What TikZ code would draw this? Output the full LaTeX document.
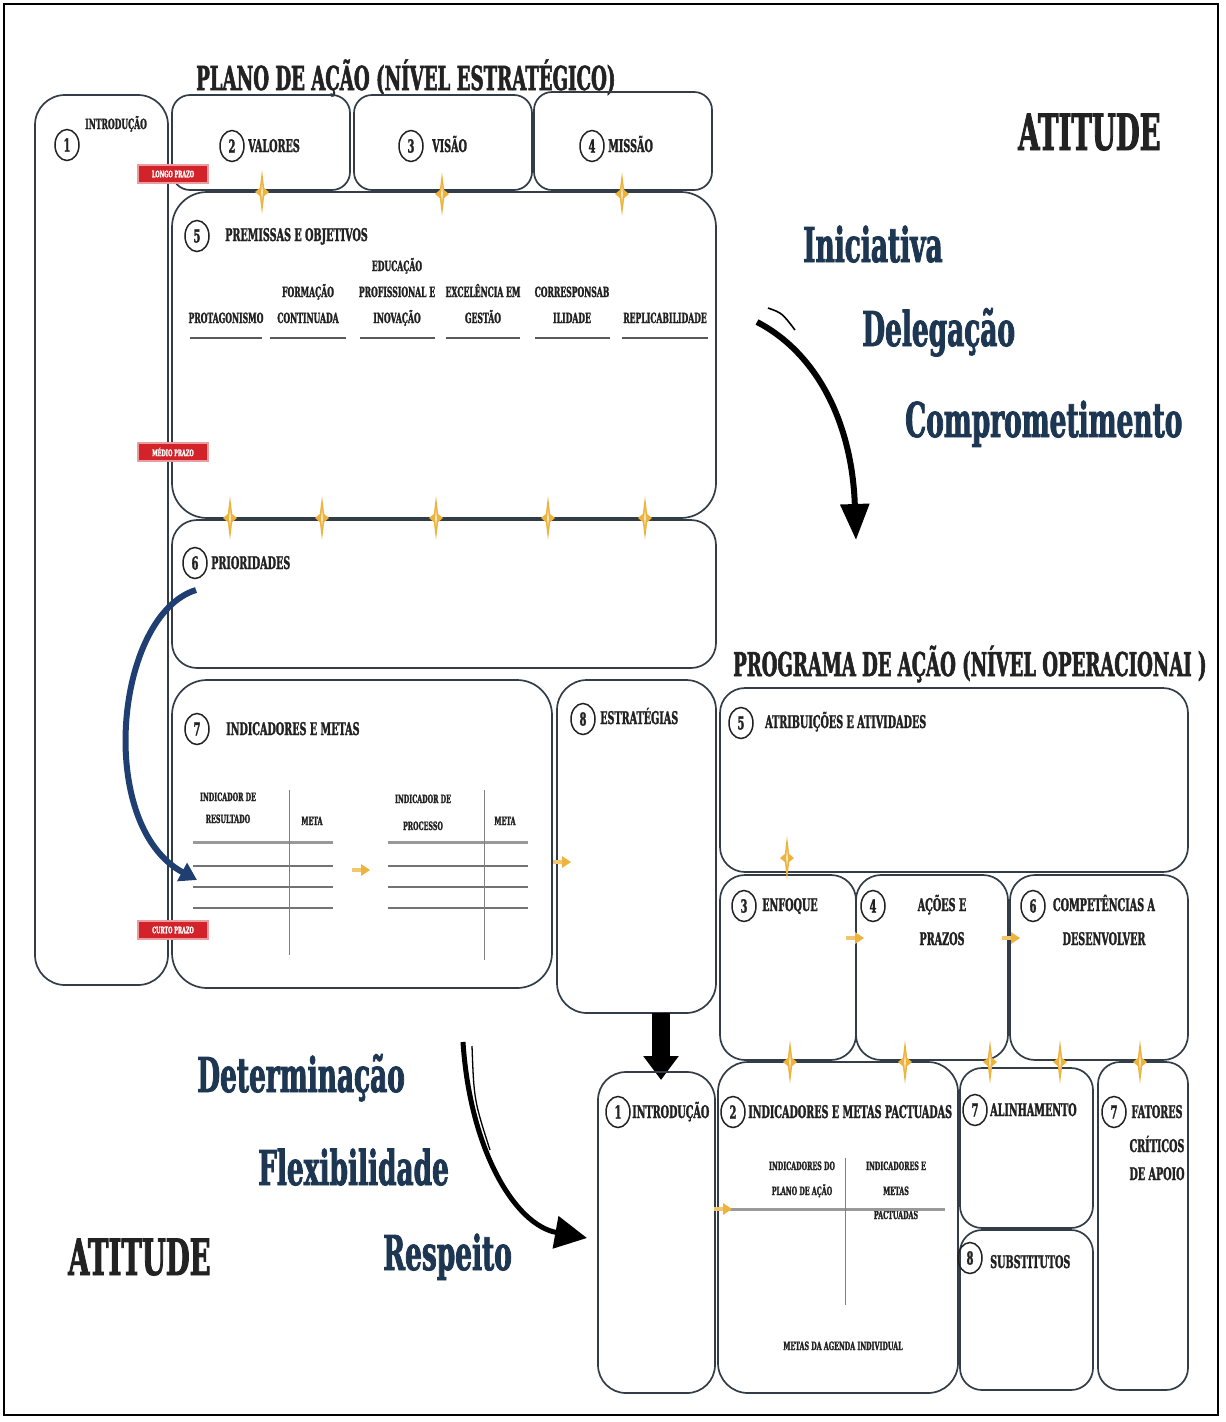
\documentclass[tikz,border=0pt]{standalone}
\usepackage{fontspec}
\setmainfont{DejaVu Serif}
\newfontfamily\slab{DejaVu Serif}[FakeStretch=0.55, FakeBold=1.6]
\usetikzlibrary{arrows.meta,shapes.geometric,fit}
\definecolor{boxline}{HTML}{333D47}
\definecolor{txt}{HTML}{222222}
\definecolor{navy}{HTML}{1D3652}
\definecolor{gold}{HTML}{EDB33C}
\definecolor{redc}{HTML}{D2232A}
\definecolor{bluea}{HTML}{1F3E72}
\tikzset{
  tx/.style={inner sep=0pt, text=txt, font=\slab\bfseries\fontsize{#1}{#1}\selectfont},
  box/.style={draw=boxline, line width=1.7pt, rounded corners=#1, inner sep=0pt},
  numc/.style={ellipse, draw=txt, line width=1.5pt, minimum width=24pt, minimum height=31pt, inner sep=0pt, text=txt, font=\slab\bfseries\fontsize{18}{18}\selectfont},
  prazo/.style={fill=redc, draw=redc!45, line width=2pt, text=white, minimum width=70pt, minimum height=18pt, inner sep=0pt, font=\slab\bfseries\fontsize{9}{9}\selectfont},
  uline/.style={draw=black!65, line width=2.6pt},
  tline/.style={draw=black!55, line width=1.3pt},
  vline/.style={draw=black!50, line width=0.9pt},
  sparkle/.pic={
    \fill[gold] (0,-22) -- (2.2,-4) -- (7,0) -- (2.2,4) -- (0,22) -- (-2.2,4) -- (-7,0) -- (-2.2,-4) -- cycle;
    \fill[gold!35!white] (0,-9) -- (1,0) -- (0,9) -- (-1,0) -- cycle;
  },
  garrow/.pic={
    \fill[gold!75] (-10,-1.8) rectangle (0,1.8);
    \fill[gold] (-1,-6) -- (8,0) -- (-1,6) -- cycle;
  }
}
\begin{document}
\begin{tikzpicture}[x=1pt,y=-1pt]
\useasboundingbox (0,0) rectangle (1226,1422);
\node[draw=black, line width=2.5pt, inner sep=0pt, fit={(4,4) (1218,1415)}] (frame) {};

% ---------- PLANO DE ACAO ----------
\node[tx=33, anchor=base west] (tplano) at (196,90) {PLANO DE AÇÃO (NÍVEL ESTRATÉGICO)};

\node[box=30pt, fit={(35,95) (168,985)}] (L1) {};
\node[box=18pt, fit={(172,95) (350,190)}] (LV) {};
\node[box=18pt, fit={(354,95) (532,190)}] (LVi) {};
\node[box=18pt, fit={(534,92) (712,190)}] (LM) {};
\node[box=35pt, fit={(172,192) (716,518)}] (L5) {};
\node[box=25pt, fit={(172,520) (716,668)}] (L6) {};
\node[box=35pt, fit={(172,680) (552,988)}] (L7) {};
\node[box=30pt, fit={(557,680) (716,1013)}] (L8) {};

\node[numc] (n1) at (67,145) {1};
\node[tx=14, anchor=base west] (t1) at (85,129) {INTRODUÇÃO};
\node[numc] (n2) at (232,146) {2};
\node[tx=17.5, anchor=base west] (t2) at (248,152) {VALORES};
\node[numc] (n3) at (411,146) {3};
\node[tx=17.5, anchor=base west] (t3) at (432,152) {VISÃO};
\node[numc] (n4) at (592,146) {4};
\node[tx=17.5, anchor=base west] (t4) at (608,152) {MISSÃO};
\node[numc] (n5) at (197,236) {5};
\node[tx=17.5, anchor=base west] (t5) at (225,241) {PREMISSAS E OBJETIVOS};

% premissas columns
\node[tx=14, anchor=base] (p1a) at (226,323) {PROTAGONISMO};
\node[tx=14, anchor=base] (p2a) at (308,297) {FORMAÇÃO};
\node[tx=14, anchor=base] (p2b) at (308,323) {CONTINUADA};
\node[tx=14, anchor=base] (p3a) at (397,271) {EDUCAÇÃO};
\node[tx=14, anchor=base] (p3b) at (397,297) {PROFISSIONAL E};
\node[tx=14, anchor=base] (p3c) at (397,323) {INOVAÇÃO};
\node[tx=14, anchor=base] (p4a) at (483,297) {EXCELÊNCIA EM};
\node[tx=14, anchor=base] (p4b) at (483,323) {GESTÃO};
\node[tx=14, anchor=base] (p5a) at (572,297) {CORRESPONSAB};
\node[tx=14, anchor=base] (p5b) at (572,323) {ILIDADE};
\node[tx=14, anchor=base] (p6a) at (665,323) {REPLICABILIDADE};
\draw[uline] (190,338) -- (262,338);
\draw[uline] (270,338) -- (346,338);
\draw[uline] (360,338) -- (435,338);
\draw[uline] (446,338) -- (520,338);
\draw[uline] (535,338) -- (610,338);
\draw[uline] (622,338) -- (708,338);

\node[numc] (n6) at (195,563) {6};
\node[tx=17.5, anchor=base west] (t6) at (211,569) {PRIORIDADES};
\node[numc] (n7) at (197,729) {7};
\node[tx=17.5, anchor=base west] (t7) at (226,735) {INDICADORES E METAS};
\node[numc] (n8) at (583,719) {8};
\node[tx=17.5, anchor=base west] (t8) at (600,724) {ESTRATÉGIAS};

% tables in box 7
\node[tx=11.5, anchor=base] (ir1) at (228,801) {INDICADOR DE};
\node[tx=11.5, anchor=base] (ir2) at (228,823) {RESULTADO};
\node[tx=11.5, anchor=base] (im1) at (312,825) {META};
\node[tx=11.5, anchor=base] (ip1) at (423,803) {INDICADOR DE};
\node[tx=11.5, anchor=base] (ip2) at (423,830) {PROCESSO};
\node[tx=11.5, anchor=base] (im2) at (505,825) {META};
\draw[draw=black!40, line width=3pt] (193,842) -- (333,842);
\draw[draw=black!40, line width=3pt] (388,842) -- (528,842);
\foreach \yy in {866,887,908} {
  \draw[tline] (193,\yy) -- (333,\yy);
  \draw[tline] (388,\yy) -- (528,\yy);
}
\draw[vline] (289,790) -- (289,955);
\draw[vline] (484,790) -- (484,960);

% red labels
\node[prazo] (lp) at (173,174) {LONGO PRAZO};
\node[prazo] (mp) at (173,452) {MÉDIO PRAZO};
\node[prazo] (cp) at (173,930) {CURTO PRAZO};

% sparkles top
\pic at (262,192) {sparkle};
\pic at (442,194) {sparkle};
\pic at (622,194) {sparkle};
\foreach \xx in {230,322,436,548,645} { \pic at (\xx,518) {sparkle}; }
\pic at (362,870) {garrow};
\pic at (563,862) {garrow};

% blue arrow
\coordinate (bs) at (196,590);
\coordinate (be) at (197,880);
\draw[bluea, line width=6pt, -{Triangle[length=17pt,width=20pt]}] (bs) .. controls (115,615) and (95,825) .. (be);

% ---------- right top words ----------
\node[tx=50, anchor=base west] (att1) at (1018,150) {ATITUDE};
\node[tx=48, text=navy, anchor=base west] (w1) at (803,262) {Iniciativa};
\node[tx=48, text=navy, anchor=base west] (w2) at (862,346) {Delegação};
\node[tx=48, text=navy, anchor=base west] (w3) at (905,437) {Comprometimento};
\coordinate (ta) at (757,322);
\coordinate (tb) at (856,540);
\draw[black, line width=6pt, -{Triangle[length=36pt,width=28pt]}] (ta) .. controls (815,352) and (852,420) .. (tb);
\coordinate (tc) at (768,308);
\coordinate (td) at (795,330);
\draw[black, line width=1.6pt] (tc) .. controls (782,313) .. (td);

% ---------- PROGRAMA DE ACAO ----------
\node[tx=32.8, anchor=base west] (tprog) at (733,676) {PROGRAMA DE AÇÃO (NÍVEL OPERACIONAI )};
\node[box=25pt, fit={(720,688) (1188,872)}] (R5) {};
\node[box=25pt, fit={(720,875) (856,1060)}] (R3) {};
\node[box=25pt, fit={(856,875) (1008,1060)}] (R4) {};
\node[box=25pt, fit={(1010,875) (1188,1060)}] (R6) {};
\node[numc] (m5) at (741,723) {5};
\node[tx=17.5, anchor=base west] (r5t) at (765,728) {ATRIBUIÇÕES E ATIVIDADES};
\node[numc] (m3) at (744,906) {3};
\node[tx=17.5, anchor=base west] (r3t) at (762,911) {ENFOQUE};
\node[numc] (m4) at (873,906) {4};
\node[tx=17.5, anchor=base] (r4a) at (942,911) {AÇÕES E};
\node[tx=17.5, anchor=base] (r4b) at (942,945) {PRAZOS};
\node[numc] (m6) at (1033,906) {6};
\node[tx=17.5, anchor=base] (r6a) at (1104,911) {COMPETÊNCIAS A};
\node[tx=17.5, anchor=base] (r6b) at (1104,945) {DESENVOLVER};
\pic at (787,858) {sparkle};
\pic at (856,938) {garrow};
\pic at (1012,938) {garrow};

% black arrow from estrategias
\coordinate (ka) at (661,1013);
\coordinate (kb) at (661,1080);
\draw[black, line width=18pt, -{Triangle[length=24pt,width=34pt]}] (ka) -- (kb);

% bottom row
\node[box=28pt, fit={(598,1072) (715,1393)}] (B1) {};
\node[box=30pt, fit={(718,1062) (958,1393)}] (B2) {};
\node[box=22pt, fit={(960,1068) (1093,1228)}] (B7) {};
\node[box=22pt, fit={(960,1230) (1093,1390)}] (B8) {};
\node[box=22pt, fit={(1098,1062) (1188,1390)}] (BF) {};
\node[numc] (q1) at (618,1112) {1};
\node[tx=17.5, anchor=base west] (b1t) at (632,1118) {INTRODUÇÃO};
\node[numc] (q2) at (733,1112) {2};
\node[tx=17.5, anchor=base west] (b2t) at (748,1118) {INDICADORES E METAS PACTUADAS};
\node[numc] (q7) at (975,1110) {7};
\node[tx=17.5, anchor=base west] (b7t) at (990,1116) {ALINHAMENTO};
\node[numc] (q8) at (970,1258) {8};
\node[tx=17.5, anchor=base west] (b8t) at (990,1268) {SUBSTITUTOS};
\node[numc] (qf) at (1114,1112) {7};
\node[tx=17.5, anchor=base] (bfa) at (1157,1118) {FATORES};
\node[tx=17.5, anchor=base] (bfb) at (1157,1152) {CRÍTICOS};
\node[tx=17.5, anchor=base] (bfc) at (1157,1180) {DE APOIO};

\node[tx=11.5, anchor=base] (ba1) at (802,1170) {INDICADORES DO};
\node[tx=11.5, anchor=base] (ba2) at (802,1195) {PLANO DE AÇÃO};
\node[tx=11.5, anchor=base] (bb1) at (896,1170) {INDICADORES E};
\node[tx=11.5, anchor=base] (bb2) at (896,1195) {METAS};
\node[tx=11.5, anchor=base] (bb3) at (896,1219) {PACTUADAS};
\draw[draw=black!40, line width=3pt] (730,1209) -- (945,1209);
\draw[vline] (845,1158) -- (845,1305);
\node[tx=11.5, anchor=base] (bmt) at (843,1350) {METAS DA AGENDA INDIVIDUAL};
\pic at (724,1209) {garrow};
\foreach \xx in {790,905,990,1060,1140} { \pic at (\xx,1062) {sparkle}; }

% ---------- bottom left words ----------
\node[tx=48, text=navy, anchor=base west] (w4) at (197,1092) {Determinação};
\node[tx=48, text=navy, anchor=base west] (w5) at (258,1185) {Flexibilidade};
\node[tx=48, text=navy, anchor=base west] (w6) at (383,1270) {Respeito};
\node[tx=50, anchor=base west] (att2) at (68,1275) {ATITUDE};
\coordinate (ua) at (463,1042);
\coordinate (ub) at (587,1238);
\draw[black, line width=5pt, -{Triangle[length=32pt,width=32pt]}] (ua) .. controls (470,1150) and (515,1225) .. (ub);
\coordinate (uc) at (472,1046);
\coordinate (ud) at (490,1150);
\draw[black, line width=1.3pt] (uc) .. controls (474,1100) .. (ud);
\end{tikzpicture}
\end{document}
